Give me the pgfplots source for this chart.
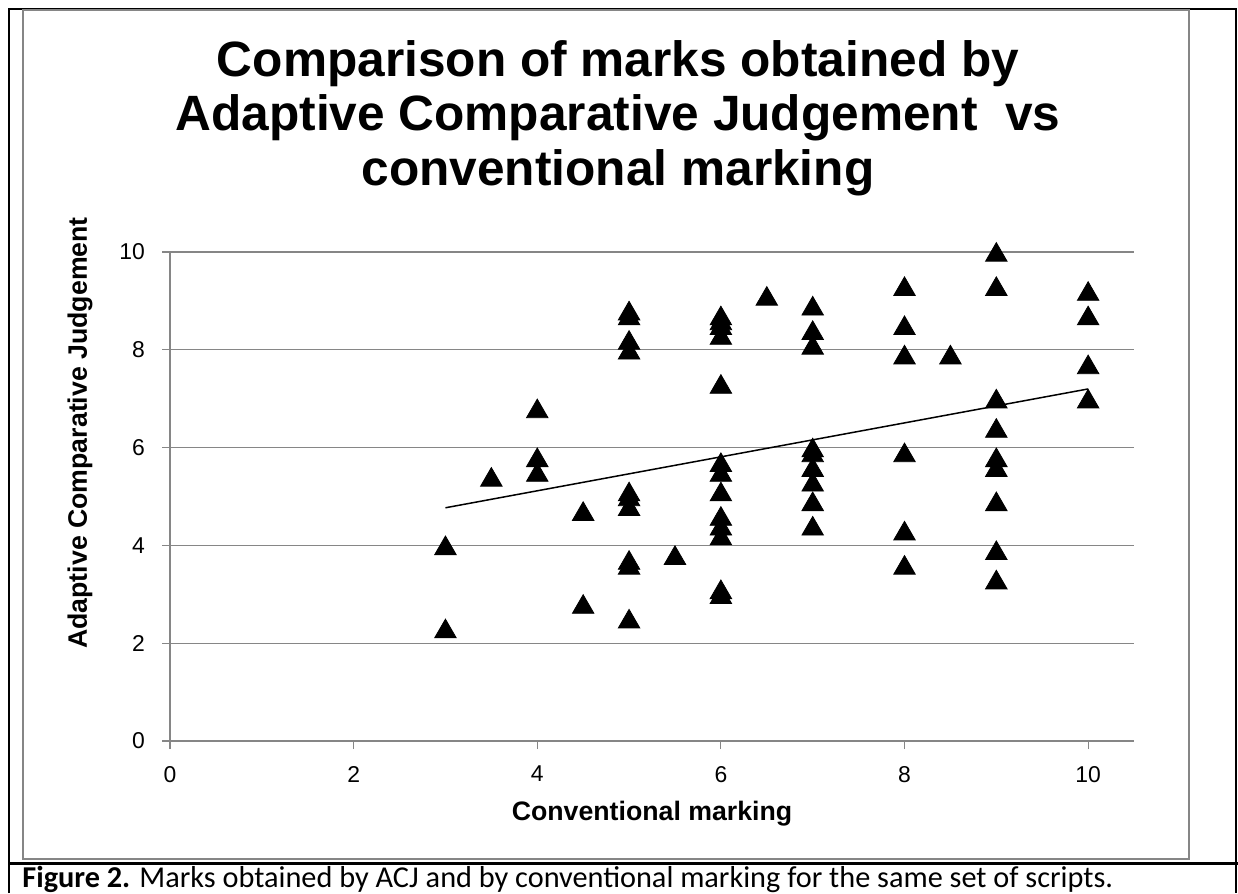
\documentclass[border=0pt]{standalone}
\usepackage{pgfplots}
\pgfplotsset{compat=1.18}
\usepackage{fontspec}
\setmainfont{Liberation Sans}
\newfontfamily\capfont{Carlito}
\definecolor{xlgrid}{HTML}{868686}

\begin{document}
\begin{tikzpicture}
% frame, in pixel units of the reference (y downwards)
\begin{scope}[x=0.5bp,y=-0.5bp]
\path[use as bounding box] (0,0) rectangle (1238,893);
\draw[black,line width=0.8bp] (9,893) -- (9,9) -- (1236,9) -- (1236,893);
\draw[black,line width=1.5bp] (9,863) -- (1238,863);
\draw[xlgrid,line width=1bp] (23,10) rectangle (1189,859);
\node[anchor=base,font=\bfseries\fontsize{24.9}{27}\selectfont] at (618,76) {Comparison of marks obtained by};
\node[anchor=base,font=\bfseries\fontsize{24.9}{27}\selectfont] at (618,130) {Adaptive Comparative Judgement\ \ vs};
\node[anchor=base,font=\bfseries\fontsize{24.9}{27}\selectfont] at (618,185) {conventional marking};
\node[anchor=base west,inner sep=0pt,font=\capfont\fontsize{15.2}{17}\selectfont] at (22,887)
  {\textbf{Figure 2.} Marks obtained by ACJ and by conventional marking for the same set of scripts.};
\end{scope}

\begin{axis}[
  at={(85bp,-370.5bp)}, anchor=south west,
  scale only axis, width=482bp, height=244.5bp,
  xmin=0, xmax=10.5, ymin=0, ymax=10,
  xtick={0,2,...,10}, ytick={0,2,...,10},
  axis lines*=left,
  axis line style={xlgrid, line width=0.6bp},
  tick align=outside,
  major tick length=4bp,
  tick style={xlgrid, line width=0.6bp},
  ymajorgrids,
  grid style={xlgrid, line width=0.6bp},
  /pgf/number format/assume math mode=true,
  ticklabel style={font=\fontsize{11.5}{13}\selectfont},
  yticklabel style={xshift=-5bp},
  xticklabel style={yshift=-5bp},
  xlabel={Conventional marking},
  ylabel={Adaptive Comparative Judgement},
  label style={font=\bfseries\fontsize{13.4}{15}\selectfont},
  xlabel style={at={(axis description cs:0.5,0)}, anchor=base, yshift=-39.5bp},
  ylabel style={at={(axis description cs:-0.0861,0.63)}, anchor=base, rotate=0},
  clip=false,
]
\addplot[only marks, mark=triangle*, mark size=6.2bp, black,
  mark options={yshift=-1.5bp}] coordinates {
  (3,4.0) (3,2.3)
  (3.5,5.4)
  (4,6.8) (4,5.8) (4,5.5)
  (4.5,4.7) (4.5,2.8)
  (5,8.8) (5,8.7) (5,8.2) (5,8.0) (5,5.1) (5,5.0) (5,4.8) (5,3.7) (5,3.6) (5,2.5)
  (5.5,3.8)
  (6,8.7) (6,8.6) (6,8.5) (6,8.3) (6,7.3) (6,5.7) (6,5.5) (6,5.1) (6,4.6) (6,4.4) (6,4.2) (6,3.1) (6,3.0)
  (6.5,9.1)
  (7,8.9) (7,8.4) (7,8.1) (7,6.0) (7,5.9) (7,5.6) (7,5.3) (7,4.9) (7,4.4)
  (8,9.3) (8,8.5) (8,7.9) (8,5.9) (8,4.3) (8,3.6)
  (8.5,7.9)
  (9,10.0) (9,9.3) (9,7.0) (9,6.4) (9,5.8) (9,5.6) (9,4.9) (9,3.9) (9,3.3)
  (10,9.2) (10,8.7) (10,7.7) (10,7.0)
};
% linear trend line
\addplot[black, line width=0.75bp] coordinates {(3,4.77) (10,7.20)};
\end{axis}
\end{tikzpicture}
\end{document}
